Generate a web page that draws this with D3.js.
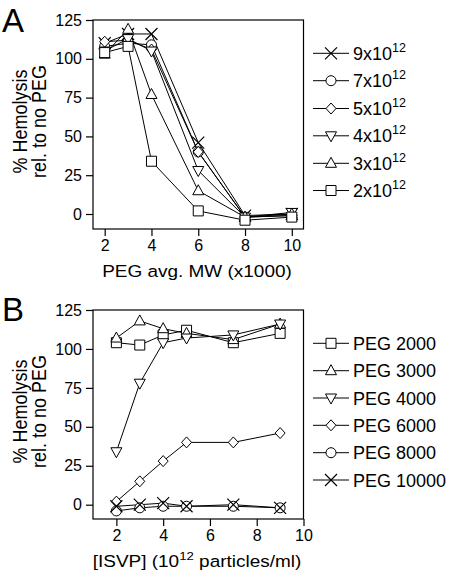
<!DOCTYPE html>
<html><head><meta charset="utf-8">
<script src="https://cdn.jsdelivr.net/npm/d3@7"></script>
<style>body{margin:0;background:#fff}svg{display:block}text{font-family:"Liberation Sans",Arial,sans-serif;fill:#000}</style>
</head><body><svg id="c" width="453" height="573"></svg>
<script>
// Panel A data
const xA = [2, 3, 4, 6, 8, 10];
const seriesA = ["9x10", "7x10", "5x10", "4x10", "3x10", "2x10"];
const markersA = ["x", "circle", "diamond", "tri-down", "tri-up", "square"];
const a9 = [110, 116, 116, 46, -1, 0];
const a7 = [108, 110, 109, 40, -2, -1];
const a5 = [111, 112, 106, 40, -2, -1];
const a4 = [105, 113, 105, 28, -2, 1];
const a3 = [103, 119, 77, 15, -2, 0];
const a2 = [104, 108, 34, 2, -4, -2];
const valuesA = [a9, a7, a5, a4, a3, a2];
// Panel B data
const xB = [2, 3, 4, 5, 7, 9];
const seriesB = ["PEG 2000", "PEG 3000", "PEG 4000", "PEG 6000", "PEG 8000", "PEG 10000"];
const markersB = ["square", "tri-up", "tri-down", "diamond", "circle", "x"];
const b2000 = [104, 102.5, 109, 112, 104, 110];
const b3000 = [107, 118, 113, 110, 106, 116];
const b4000 = [34, 78, 104, 107, 109, 116];
const b6000 = [2, 15, 28, 40, 40, 46];
const b8000 = [-4, -2, -1, -1, -1, -2];
const b10000 = [-1, 0, 1, -1, 0, -2];
const valuesB = [b2000, b3000, b4000, b6000, b8000, b10000];
const yTicks = [0, 25, 50, 75, 100, 125];
const xTicks = [2, 4, 6, 8, 10];

const svg = d3.select("#c");
const F = '"Liberation Sans",Arial,sans-serif';

function marker(g, type, cx, cy) {
  const s = 5;
  let p;
  if (type === "square") p = `M${cx-s},${cy-s}h${2*s}v${2*s}h${-2*s}Z`;
  else if (type === "circle") { g.append("circle").attr("cx", cx).attr("cy", cy).attr("r", 5).attr("fill", "#fff").attr("stroke", "#000").attr("stroke-width", 1); return; }
  else if (type === "diamond") p = `M${cx},${cy-5.5}L${cx+5},${cy}L${cx},${cy+5.5}L${cx-5},${cy}Z`;
  else if (type === "tri-up") p = `M${cx},${cy-6}L${cx+5.5},${cy+4}L${cx-5.5},${cy+4}Z`;
  else if (type === "tri-down") p = `M${cx},${cy+6}L${cx+5.5},${cy-4}L${cx-5.5},${cy-4}Z`;
  else if (type === "x") { g.append("path").attr("d", `M${cx-6},${cy-6}L${cx+6},${cy+6}M${cx-6},${cy+6}L${cx+6},${cy-6}`).attr("stroke", "#000").attr("stroke-width", 1.2).attr("fill", "none"); return; }
  g.append("path").attr("d", p).attr("fill", "#fff").attr("stroke", "#000").attr("stroke-width", 1);
}

function panel(opts) {
  const g = svg.append("g");
  const x = d3.scaleLinear().domain(opts.xdom).range([93, 303.5]);
  const y = d3.scaleLinear().domain([0, 125]).range([opts.y0, opts.y125]);
  const bottom = opts.bottom;
  g.append("rect").attr("x", 93).attr("y", opts.y125).attr("width", 303.5 - 93).attr("height", bottom - opts.y125)
    .attr("fill", "none").attr("stroke", "#000").attr("stroke-width", 1.2);
  const ya = g.append("g").attr("transform", "translate(93,0)")
    .call(d3.axisLeft(y).tickValues(yTicks).tickSize(7).tickPadding(4));
  ya.select(".domain").remove();
  ya.selectAll("text").attr("font-size", 16).attr("font-family", F);
  ya.selectAll("line").attr("stroke-width", 1.2);
  const xa = g.append("g").attr("transform", `translate(0,${bottom})`)
    .call(d3.axisBottom(x).tickValues(xTicks).tickSize(7).tickPadding(4));
  xa.select(".domain").remove();
  xa.selectAll("text").attr("font-size", 16).attr("font-family", F);
  xa.selectAll("line").attr("stroke-width", 1.2);
  const line = d3.line().x((d, i) => x(opts.xs[i])).y(d => y(d));
  opts.values.forEach(v => {
    g.append("path").attr("d", line(v)).attr("fill", "none").attr("stroke", "#000").attr("stroke-width", 1);
  });
  opts.values.forEach((v, k) => {
    v.forEach((d, i) => marker(g, opts.markers[k], x(opts.xs[i]), y(d)));
  });
  opts.names.forEach((n, k) => {
    const ly = opts.legY[k];
    g.append("line").attr("x1", 313).attr("x2", 349).attr("y1", ly).attr("y2", ly).attr("stroke", "#000").attr("stroke-width", 1);
    marker(g, opts.markers[k], 331, ly);
    const t = g.append("text").attr("x", 353).attr("y", ly + 6.5).attr("font-size", 18);
    t.append("tspan").text(n);
    if (opts.sup) t.append("tspan").attr("font-size", 12.5).attr("dy", -8).text("12");
  });
  const cy = (opts.y125 + bottom) / 2 - 3;
  g.append("text").attr("transform", `translate(27,${cy}) scale(1.1,1) rotate(-90)`).attr("text-anchor", "middle").attr("font-size", 18).text("% Hemolysis");
  g.append("text").attr("transform", `translate(46,${cy}) scale(1.1,1) rotate(-90)`).attr("text-anchor", "middle").attr("font-size", 18).text("rel. to no PEG");
  g.append("text").attr("x", 2).attr("y", opts.letterY).attr("font-size", 33).text(opts.letter);
  return g;
}

panel({xdom: [1.5, 10.5], xs: xA, y0: 214, y125: 20, bottom: 229, values: valuesA, markers: markersA,
  names: seriesA, sup: true, legY: [53.3, 80.7, 108.5, 135.8, 163.3, 190.5], letter: "A", letterY: 32});
svg.append("text").attr("transform", "translate(197,277) scale(1.15,1)").attr("text-anchor", "middle").attr("font-size", 16.5).text("PEG avg. MW (x1000)");

panel({xdom: [1, 10], xs: xB, y0: 504.7, y125: 310, bottom: 519, values: valuesB, markers: markersB,
  names: seriesB, sup: false, legY: [343.3, 370.7, 398, 425.3, 452.7, 480], letter: "B", letterY: 321});
const tB = svg.append("text").attr("transform", "translate(197,567) scale(1.15,1)").attr("text-anchor", "middle").attr("font-size", 16.5);
tB.append("tspan").text("[ISVP] (10");
tB.append("tspan").attr("font-size", 11.5).attr("dy", -7).text("12");
tB.append("tspan").attr("dy", 7).text(" particles/ml)");
</script></body></html>
